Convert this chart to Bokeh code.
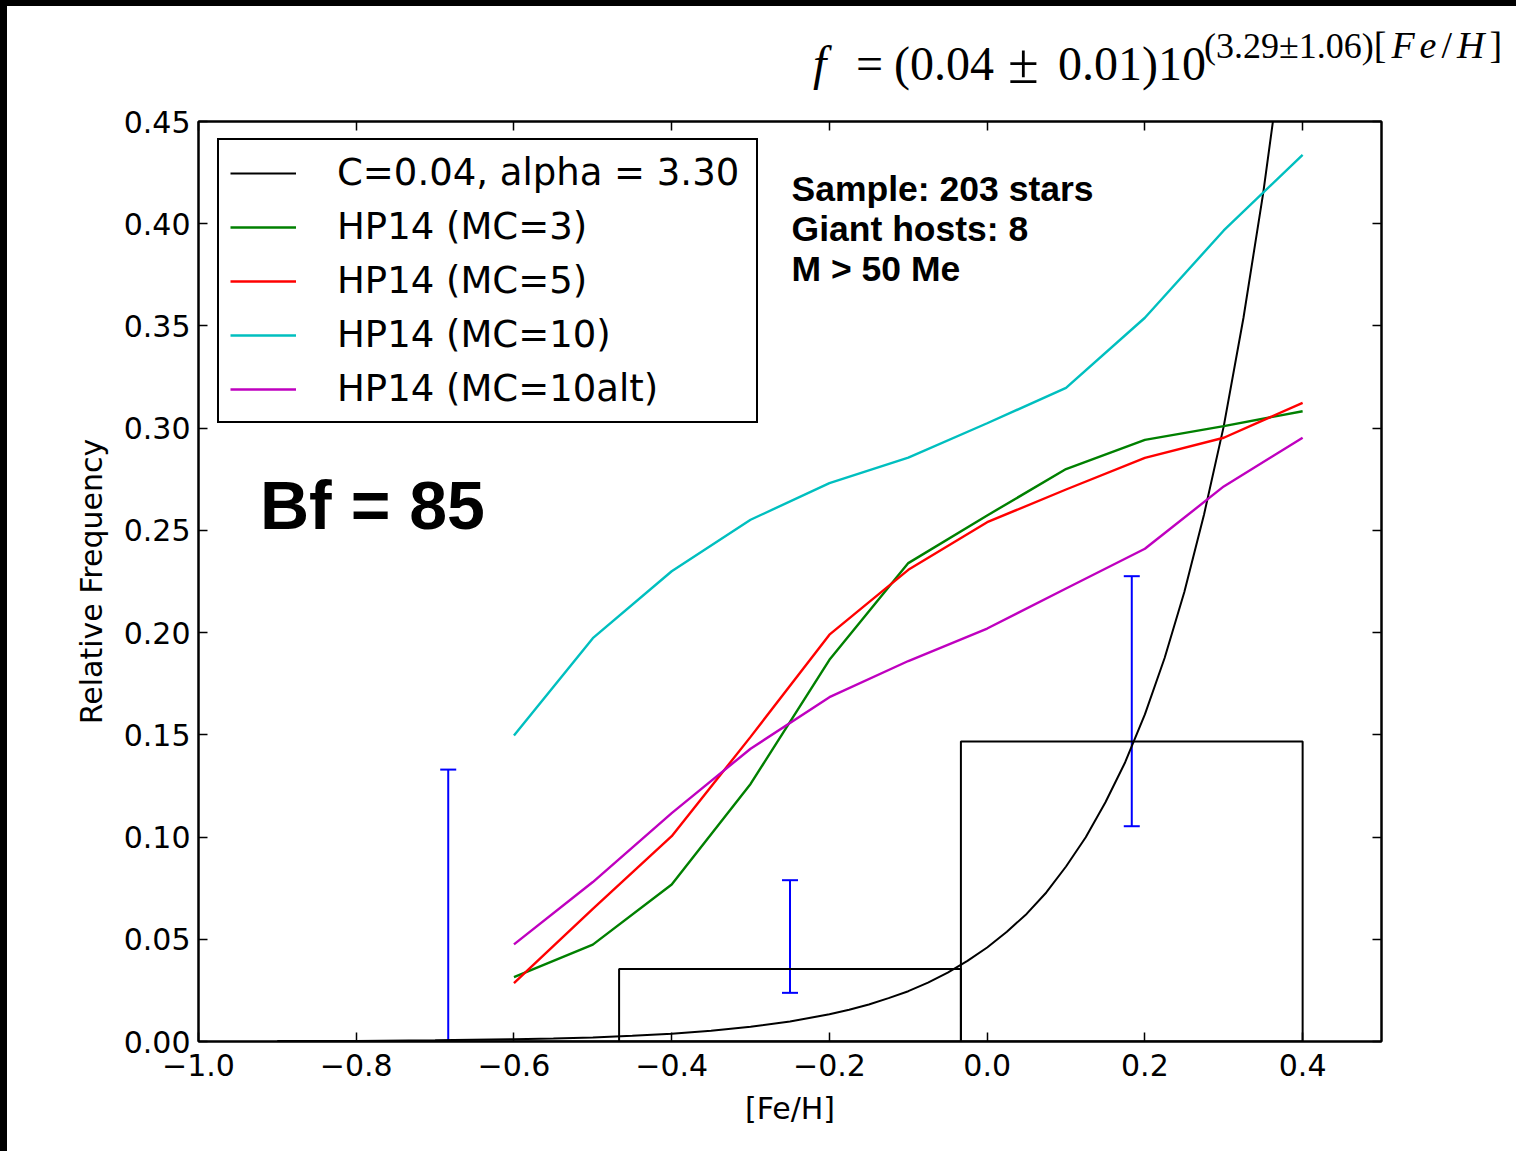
import numpy as np
from bokeh.plotting import figure
from bokeh.layouts import column
from bokeh.models import (ColumnDataSource, Legend, LegendItem, Label, LinearAxis, Div,
                          FixedTicker, CustomJSTickFormatter, Whisker, TeeHead, Range1d)
from bokeh.embed import file_html
from bokeh.resources import INLINE

# ---------------- data ----------------
feh_grid = [-0.6, -0.5, -0.4, -0.3, -0.2, -0.1, 0.0, 0.1, 0.2, 0.3, 0.4]
hp14_mc3 = [0.0315, 0.0474, 0.0768, 0.126, 0.1867, 0.234, 0.2573, 0.280, 0.2943, 0.301, 0.3083]
hp14_mc5 = [0.0285, 0.0649, 0.1004, 0.149, 0.199, 0.2307, 0.254, 0.270, 0.2855, 0.2953, 0.3124]
hp14_mc10 = [0.1497, 0.1973, 0.230, 0.2552, 0.2731, 0.2856, 0.3024, 0.3197, 0.354, 0.3967, 0.4337]
hp14_mc10alt = [0.0475, 0.078, 0.1117, 0.1432, 0.1684, 0.1861, 0.202, 0.2216, 0.241, 0.2715, 0.2953]

fit_feh = [-0.9, -0.8, -0.7, -0.6, -0.55, -0.5, -0.45, -0.4, -0.35, -0.3, -0.25, -0.2,
           -0.175, -0.15, -0.125, -0.1, -0.075, -0.05, -0.025, 0.0, 0.025, 0.05, 0.075,
           0.1, 0.125, 0.15, 0.175, 0.2, 0.225, 0.25, 0.275, 0.3, 0.325, 0.35, 0.375]
fit_freq = [0.0002, 0.0003, 0.0006, 0.0011, 0.0015, 0.0020, 0.0028, 0.0038, 0.0053, 0.0072,
            0.0098, 0.0133, 0.0155, 0.0181, 0.0212, 0.0246, 0.0288, 0.0337, 0.0394, 0.046,
            0.0537, 0.0624, 0.0729, 0.0856, 0.0999, 0.117, 0.1366, 0.160, 0.1876, 0.2199,
            0.2578, 0.3010, 0.354, 0.415, 0.486]

bin_edges = [-0.9, -0.4667, -0.0333, 0.4]
hist_freq = [0.0, 0.0355, 0.1468]
err_lower = [0.0, 0.0238, 0.1053]
err_upper = [0.133, 0.0789, 0.2276]

x_ticks = [-1.0, -0.8, -0.6, -0.4, -0.2, 0.0, 0.2, 0.4]
y_ticks = [0.0, 0.05, 0.10, 0.15, 0.20, 0.25, 0.30, 0.35, 0.40, 0.45]

legend_labels = ["C=0.04, alpha = 3.30", "HP14 (MC=3)", "HP14 (MC=5)",
                 "HP14 (MC=10)", "HP14 (MC=10alt)"]
info_lines = ["Sample: 203 stars", "Giant hosts: 8", "M > 50 Me"]
bf_text = "Bf = 85"

# ---------------- formula header (HTML text) ----------------
def span(txt, left, top, size, italic=False):
    st = "italic" if italic else "normal"
    return (f'<span style="position:absolute;left:{left}px;top:{top}px;font-size:{size}px;'
            f'line-height:{size}px;font-style:{st};white-space:nowrap;">{txt}</span>')

main_top = 34
sup_top = 21
sup_html = ('(3.29\u00b11.06)<span style="font-size:38px;letter-spacing:5px;">'
            '[<i>Fe</i>/<i>H</i>]</span>')
pieces = [
    span("f", 806, main_top, 48, True),
    span("=", 849, main_top, 48),
    span("(0.04", 887, main_top, 48),
    span("\u00b1", 1001, main_top - 4, 56),
    span("0.01)10", 1051, main_top, 48),
    span(sup_html, 1197, sup_top, 36),
]
html = ('<div style="position:relative;width:1509px;height:94px;background:white;'
        'font-family:\'Liberation Serif\',serif;color:black;margin:0;padding:0;">'
        + "".join(pieces) + "</div>")
header = Div(text=html, width=1509, height=94,
             styles={"border-top": "6px solid black", "border-left": "7px solid black",
                     "box-sizing": "content-box", "background-color": "white",
                     "margin": "0", "padding": "0"})

# ---------------- figure ----------------
p = figure(width=1509, height=1051, output_backend="svg", toolbar_location=None,
           x_range=Range1d(-1.0, 0.5), y_range=Range1d(0.0, 0.45),
           min_border_left=191, min_border_right=142, min_border_top=21,
           min_border_bottom=110)
p.styles = {"border-left": "7px solid black", "box-sizing": "content-box"}
p.background_fill_color = "white"
p.border_fill_color = "white"
p.xgrid.visible = False
p.ygrid.visible = False
p.outline_line_color = "black"
p.outline_line_width = 2

xf = CustomJSTickFormatter(code="return tick.toFixed(1).replace('-', '\u2212');")
yf = CustomJSTickFormatter(code="return tick.toFixed(2);")

def style_axis(ax, ticks, fmt, show_labels=True):
    ax.ticker = FixedTicker(ticks=ticks)
    ax.formatter = fmt
    ax.major_tick_in = 9
    ax.major_tick_out = 0
    ax.minor_tick_line_color = None
    ax.major_tick_line_color = "black"
    ax.major_tick_line_width = 1.5
    ax.axis_line_color = "black"
    ax.axis_line_width = 2
    ax.major_label_text_font = "DejaVu Sans"
    ax.major_label_text_font_size = "30px"
    ax.major_label_text_color = "black" if show_labels else None
    ax.major_label_standoff = 8

style_axis(p.xaxis[0], x_ticks, xf)
style_axis(p.yaxis[0], y_ticks, yf)
p.xaxis[0].major_label_standoff = 12
p.xaxis[0].axis_label = "[Fe/H]"
p.yaxis[0].axis_label = "Relative Frequency"
for ax in (p.xaxis[0], p.yaxis[0]):
    ax.axis_label_text_font = "DejaVu Sans"
    ax.axis_label_text_font_size = "30px"
    ax.axis_label_text_font_style = "normal"
    ax.axis_label_text_color = "black"
p.xaxis[0].axis_label_standoff = 12
p.yaxis[0].axis_label_standoff = 12

top_ax = LinearAxis()
style_axis(top_ax, x_ticks, xf, show_labels=False)
top_ax.major_label_text_font_size = "1px"
top_ax.major_label_standoff = 0
p.add_layout(top_ax, "above")
right_ax = LinearAxis()
style_axis(right_ax, y_ticks, yf, show_labels=False)
right_ax.major_label_text_font_size = "1px"
right_ax.major_label_standoff = 0
p.add_layout(right_ax, "right")

# histogram
hist_src = ColumnDataSource(dict(left=bin_edges[:-1], right=bin_edges[1:],
                                 top=hist_freq, bottom=[0.0] * len(hist_freq)))
p.quad(left="left", right="right", top="top", bottom="bottom", source=hist_src,
       fill_color=None, line_color="black", line_width=2)

# error bars at bin centres
centres = [(bin_edges[i] + bin_edges[i + 1]) / 2 for i in range(len(hist_freq))]
err_src = ColumnDataSource(dict(x=centres, lower=err_lower, upper=err_upper))
p.add_layout(Whisker(source=err_src, base="x", lower="lower", upper="upper",
                     line_color="#0000ff", line_width=2,
                     upper_head=TeeHead(size=16, line_color="#0000ff", line_width=2),
                     lower_head=TeeHead(size=16, line_color="#0000ff", line_width=2)))

# model lines
r_fit = p.line(fit_feh, fit_freq, line_color="black", line_width=2)
r_mc3 = p.line(feh_grid, hp14_mc3, line_color="#008000", line_width=2.4)
r_mc5 = p.line(feh_grid, hp14_mc5, line_color="#ff0000", line_width=2.4)
r_mc10 = p.line(feh_grid, hp14_mc10, line_color="#00bfbf", line_width=2.4)
r_mc10a = p.line(feh_grid, hp14_mc10alt, line_color="#bf00bf", line_width=2.4)

legend = Legend(items=[LegendItem(label=lab, renderers=[r]) for lab, r in
                       zip(legend_labels, [r_fit, r_mc3, r_mc5, r_mc10, r_mc10a])],
                location=(19, 618))
legend.label_text_font = "DejaVu Sans"
legend.label_text_font_size = "37px"
legend.label_text_color = "black"
legend.glyph_width = 66
legend.glyph_height = 20
legend.label_standoff = 41
legend.label_width = 408
legend.padding = 11
legend.spacing = 11
legend.margin = 0
legend.border_line_color = "black"
legend.border_line_alpha = 1.0
legend.border_line_width = 2
legend.background_fill_alpha = 1.0
p.add_layout(legend, "center")

# in-plot annotations
p.add_layout(Label(x=-0.922, y=0.2622, text=bf_text, text_font="Liberation Sans",
                   text_font_style="bold", text_font_size="68px", text_color="black",
                   text_baseline="alphabetic"))
info_y = [0.4169, 0.3974, 0.3779]
for t, yy in zip(info_lines, info_y):
    p.add_layout(Label(x=-0.248, y=yy, text=t, text_font="Liberation Sans",
                       text_font_style="bold", text_font_size="35.5px", text_color="black",
                       text_baseline="alphabetic"))

layout = column(header, p, spacing=0)
open("out.html", "w").write(file_html(layout, INLINE))
